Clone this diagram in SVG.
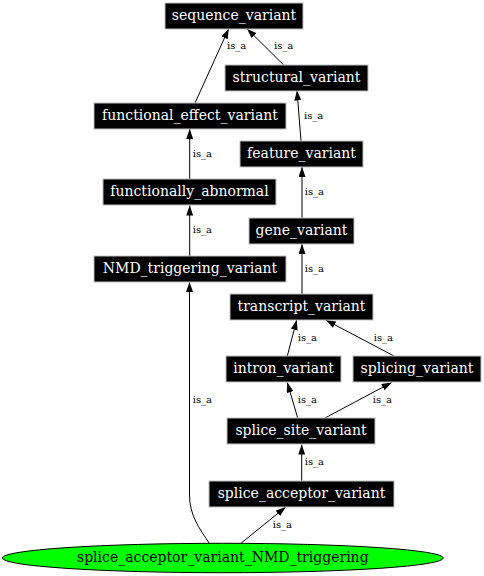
<svg xmlns="http://www.w3.org/2000/svg" width="484" height="576" viewBox="0 0 484 576">
<defs>
<style>
.box{fill:#000;stroke:#c0c0c0;stroke-width:1}
.nt{fill:#fff;font-family:"DejaVu Serif",serif;font-size:14px;text-anchor:middle}
.et{fill:#000;font-family:"DejaVu Serif",serif;font-size:10px}
.e{fill:none;stroke:#000;stroke-width:1;marker-end:url(#ah)}
</style>
<marker id="ah" markerUnits="userSpaceOnUse" markerWidth="10" markerHeight="7" refX="10" refY="3.5" orient="auto">
<path d="M0,0 L10,3.5 L0,7 z" fill="#000"/>
</marker>
</defs>
<rect width="484" height="576" fill="#fff"/>
<g id="edges">
<path class="e" d="M195,103 L228.7,28.7"/>
<path class="e" d="M283.7,65 L247,28.7"/>
<path class="e" d="M301,141 L297,90.5"/>
<path class="e" d="M189.7,179 L189.7,129"/>
<path class="e" d="M302,218 L302,167"/>
<path class="e" d="M189.7,256 L189.7,205.5"/>
<path class="e" d="M302,294 L302,244"/>
<path class="e" d="M287.3,356 L296.7,320"/>
<path class="e" d="M394,356 L325.7,320"/>
<path class="e" d="M297.7,418 L287.3,382.5"/>
<path class="e" d="M325,418 L391.7,382.5"/>
<path class="e" d="M301.7,481 L301.7,444.5"/>
<path class="e" d="M240.7,543.5 L285.7,507"/>
<path class="e" d="M209.5,543.5 C199,528 189.5,515 189.5,495 L189.5,282"/>
<text class="et" x="227" y="49">is_a</text>
<text class="et" x="274" y="49">is_a</text>
<text class="et" x="304" y="119">is_a</text>
<text class="et" x="192.7" y="157">is_a</text>
<text class="et" x="304.7" y="195">is_a</text>
<text class="et" x="192.7" y="233">is_a</text>
<text class="et" x="304.7" y="272">is_a</text>
<text class="et" x="297.7" y="340.7">is_a</text>
<text class="et" x="373.7" y="340.7">is_a</text>
<text class="et" x="297.7" y="403">is_a</text>
<text class="et" x="372.7" y="403">is_a</text>
<text class="et" x="192.7" y="403">is_a</text>
<text class="et" x="304.7" y="464.7">is_a</text>
<text class="et" x="272.7" y="528.3">is_a</text>
</g>
<g id="sequence_variant"><rect class="box" x="165" y="3" width="138" height="26"/><text class="nt" x="234" y="20">sequence_variant</text></g>
<g id="structural_variant"><rect class="box" x="225" y="65" width="143" height="26"/><text class="nt" x="296.5" y="82">structural_variant</text></g>
<g id="functional_effect_variant"><rect class="box" x="94" y="103" width="192" height="26"/><text class="nt" x="190" y="120">functional_effect_variant</text></g>
<g id="feature_variant"><rect class="box" x="240" y="141" width="123" height="26"/><text class="nt" x="301.5" y="158">feature_variant</text></g>
<g id="functionally_abnormal"><rect class="box" x="103" y="179" width="173" height="26"/><text class="nt" x="189.5" y="196">functionally_abnormal</text></g>
<g id="gene_variant"><rect class="box" x="249" y="218" width="105" height="26"/><text class="nt" x="301.5" y="235">gene_variant</text></g>
<g id="NMD_triggering_variant"><rect class="box" x="94" y="256" width="192" height="26"/><text class="nt" x="190" y="273">NMD_triggering_variant</text></g>
<g id="transcript_variant"><rect class="box" x="230" y="294" width="143" height="26"/><text class="nt" x="301.5" y="311">transcript_variant</text></g>
<g id="intron_variant"><rect class="box" x="226" y="356" width="115" height="26"/><text class="nt" x="283.5" y="373">intron_variant</text></g>
<g id="splicing_variant"><rect class="box" x="353" y="356" width="128" height="26"/><text class="nt" x="417" y="373">splicing_variant</text></g>
<g id="splice_site_variant"><rect class="box" x="227" y="418" width="148" height="26"/><text class="nt" x="301" y="435">splice_site_variant</text></g>
<g id="splice_acceptor_variant"><rect class="box" x="209" y="481" width="185" height="26"/><text class="nt" x="301.5" y="498">splice_acceptor_variant</text></g>
<g id="splice_acceptor_variant_NMD_triggering"><ellipse cx="222.8" cy="558" rx="220.5" ry="14.7" fill="#00ff00" stroke="#000" stroke-width="1"/><text class="nt" x="222.8" y="562" style="fill:#000">splice_acceptor_variant_NMD_triggering</text></g>
</svg>
